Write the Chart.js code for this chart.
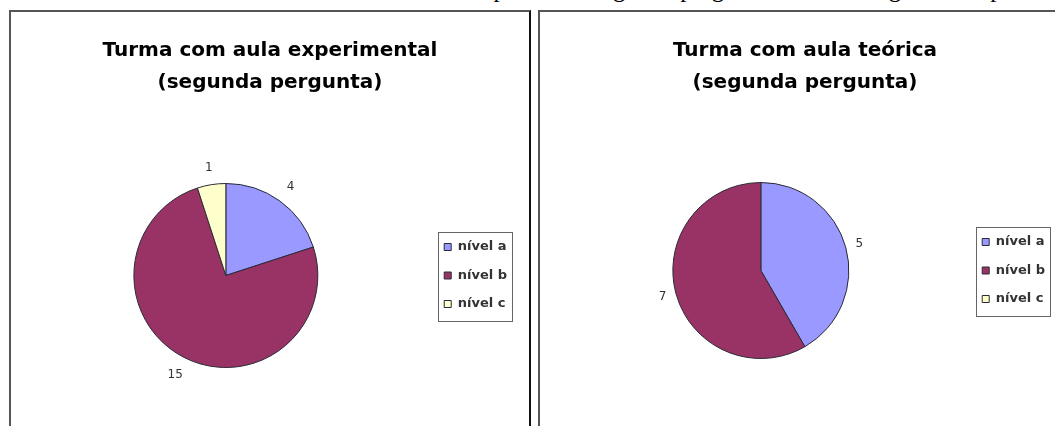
<!DOCTYPE html>
<html lang="pt">
<head>
<meta charset="utf-8">
<script src="https://cdn.jsdelivr.net/npm/chart.js@4.4.1/dist/chart.umd.min.js"></script>
<style>
  html, body { margin: 0; padding: 0; background: #fff; width: 1055px; height: 426px; overflow: hidden; position: relative; }
  .caption { position: absolute; left: 336px; top: -24px; font: 25px/25px "Liberation Serif", "Times New Roman", serif; color: #000; white-space: nowrap; }
  .panel { position: absolute; top: 10px; height: 440px; border-top: 2px solid #555; border-left: 2px solid #555; background: #fff; }
  #p1 { left: 9px; width: 518px; border-right: 2px solid #111; }
  #p2 { left: 538px; width: 533px; }
  .panel canvas { position: absolute; left: 0; top: 0; }
</style>
</head>
<body>
<div class="caption">Gráfico 5 – Respostas da segunda pergunta da turma segundo o tipo de aula</div>
<div class="panel" id="p1"><canvas id="c1" width="518" height="414"></canvas></div>
<div class="panel" id="p2"><canvas id="c2" width="533" height="414"></canvas></div>
<script>
// Answer levels and counts for each class
const categories = ['nível a', 'nível b', 'nível c'];
const experimentalValues = [4, 15, 1];
const teoricaValues = [5, 7, 0];
const experimentalTitle = ['Turma com aula experimental', '(segunda pergunta)'];
const teoricaTitle = ['Turma com aula teórica', '(segunda pergunta)'];
const sliceColors = ['#9999FF', '#993366', '#FFFFCC'];

// Writes each slice's count just outside the rim, along the slice's middle angle
const sliceValueLabels = {
  id: 'sliceValueLabels',
  afterDatasetsDraw(chart, args, opts) {
    const ctx = chart.ctx;
    const meta = chart.getDatasetMeta(0);
    const values = chart.data.datasets[0].data;
    ctx.save();
    ctx.font = '12px "DejaVu Sans"';
    ctx.fillStyle = '#333';
    ctx.textAlign = 'center';
    ctx.textBaseline = 'middle';
    meta.data.forEach((arc, i) => {
      const v = values[i];
      if (!v) return;
      const p = arc.getProps(['x', 'y', 'startAngle', 'endAngle', 'outerRadius'], true);
      const mid = (p.startAngle + p.endAngle) / 2;
      const text = String(v);
      const w = ctx.measureText(text).width, h = 9;
      const c = Math.cos(mid), s = Math.sin(mid);
      const d = p.outerRadius + opts.gap + Math.abs(c) * w / 2 + Math.abs(s) * h / 2;
      ctx.fillText(text, p.x + c * d, p.y + s * d);
    });
    ctx.restore();
  }
};

// Thin frame around the legend entries
const legendFrame = {
  id: 'legendFrame',
  afterDraw(chart) {
    const boxes = chart.legend && chart.legend.legendHitBoxes;
    if (!boxes || !boxes.length) return;
    const ctx = chart.ctx;
    const l = Math.min(...boxes.map(b => b.left)) - 6;
    const r = Math.max(...boxes.map(b => b.left + b.width)) + 5;
    const t = boxes[0].top - 9;
    const last = boxes[boxes.length - 1];
    const b = last.top + last.height + 10;
    ctx.save();
    ctx.strokeStyle = '#666';
    ctx.lineWidth = 1;
    ctx.strokeRect(Math.round(l) + 0.5, Math.round(t) + 0.5, Math.round(r - l), Math.round(b - t));
    ctx.restore();
  }
};

function pieConfig(values, titleLines, pad, titleGap, labelGap) {
  return {
    type: 'pie',
    data: {
      labels: categories,
      datasets: [{
        data: values,
        backgroundColor: sliceColors,
        borderColor: '#2a2a36',
        borderWidth: 1,
        hoverOffset: 0
      }]
    },
    options: {
      responsive: false,
      animation: false,
      devicePixelRatio: 1,
      layout: { padding: pad },
      plugins: {
        title: {
          display: true,
          text: titleLines,
          color: '#000',
          font: { family: 'DejaVu Sans', size: 20, weight: 'bold', lineHeight: 1.6 },
          padding: { top: 23, bottom: titleGap }
        },
        legend: {
          position: 'right',
          align: 'center',
          fullSize: false,
          labels: {
            boxWidth: 7,
            boxHeight: 7,
            padding: 15.5,
            color: '#333',
            font: { family: 'DejaVu Sans', size: 13, weight: 'bold' }
          }
        },
        tooltip: { enabled: false },
        sliceValueLabels: { gap: labelGap }
      }
    },
    plugins: [sliceValueLabels, legendFrame]
  };
}

new Chart(document.getElementById('c1'),
  pieConfig(experimentalValues, experimentalTitle, { left: 12, right: 12, top: 0, bottom: 58 }, 84, 12));
new Chart(document.getElementById('c2'),
  pieConfig(teoricaValues, teoricaTitle, { left: 15, right: 18, top: 0, bottom: 67 }, 83, 9));
</script>
</body>
</html>
